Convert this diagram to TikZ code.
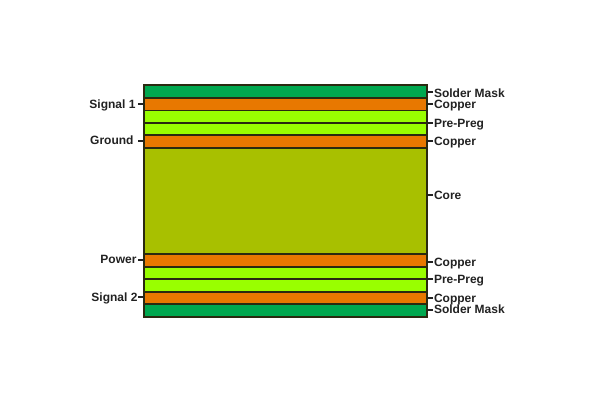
\documentclass[tikz,border=0pt]{standalone}
\usepackage{fontspec}
\setmainfont{Liberation Sans}
\definecolor{maskc}{HTML}{00A84F}
\definecolor{copperc}{HTML}{E87800}
\definecolor{pregc}{HTML}{99FF00}
\definecolor{corec}{HTML}{A8C000}
\definecolor{edgec}{HTML}{2A2A10}
\definecolor{textc}{HTML}{222222}
\tikzset{
  layer/.style={draw=edgec,line width=1.3pt,inner sep=0pt,outer sep=0pt,minimum width=283pt,anchor=north west},
  mask/.style={layer,fill=maskc},
  copper/.style={layer,fill=copperc},
  preg/.style={layer,fill=pregc},
  corelayer/.style={layer,fill=corec},
  lab/.style={font=\bfseries\fontsize{12}{12}\selectfont,text=textc,inner sep=0pt,outer sep=0pt},
  rlab/.style={lab,anchor=base west},
  llab/.style={lab,anchor=base east},
  tick/.style={draw=textc,line width=1.2pt}
}
\begin{document}
\begin{tikzpicture}[x=1pt,y=-1pt]
\useasboundingbox (0,0) rectangle (600,402);
\fill[white] (0,0) rectangle (600,402);
% layers
\node[mask,minimum height=13pt] (L1) at (144,85) {};
\node[copper,minimum height=12.5pt] (L2) at (144,98) {};
\node[preg,minimum height=12.5pt] (L3) at (144,110.5) {};
\node[preg,minimum height=12pt] (L4) at (144,123) {};
\node[copper,minimum height=13pt] (L5) at (144,135) {};
\node[corelayer,minimum height=106pt] (L6) at (144,148) {};
\node[copper,minimum height=13pt] (L7) at (144,254) {};
\node[preg,minimum height=12pt] (L8) at (144,267) {};
\node[preg,minimum height=13pt] (L9) at (144,279) {};
\node[copper,minimum height=12pt] (L10) at (144,292) {};
\node[mask,minimum height=13pt] (L11) at (144,304) {};
% tick anchors and labels on the right
\foreach \n/\t/\y/\ty/\l in {a/Solder Mask/92/93/L1,b/Copper/104/104/L2,c/Pre-Preg/123/123/L3,d/Copper/141/141/L5,e/Core/195/195/L6,f/Copper/262/262/L7,g/Pre-Preg/279/279/L8,h/Copper/298/298/L10,i/Solder Mask/310/309.5/L11}{
  \coordinate (t\n) at (433,\y);
  \node[rlab] (r\n) at (434,\ty+4.3) {\t};
  \draw[tick] (t\n) -- (t\n -| \l.east);
}
% left
\foreach \n/\t/\y/\ty/\l/\x in {a/Signal 1/104/104/L2/135.5,b/Ground/141/140/L5/133.5,c/Power/260/259/L7/136.5,d/Signal 2/297/297/L10/137.5}{
  \coordinate (s\n) at (138,\y);
  \node[llab] (q\n) at (\x,\ty+4.3) {\t};
  \draw[tick] (s\n) -- (s\n -| \l.west);
}
\end{tikzpicture}
\end{document}
